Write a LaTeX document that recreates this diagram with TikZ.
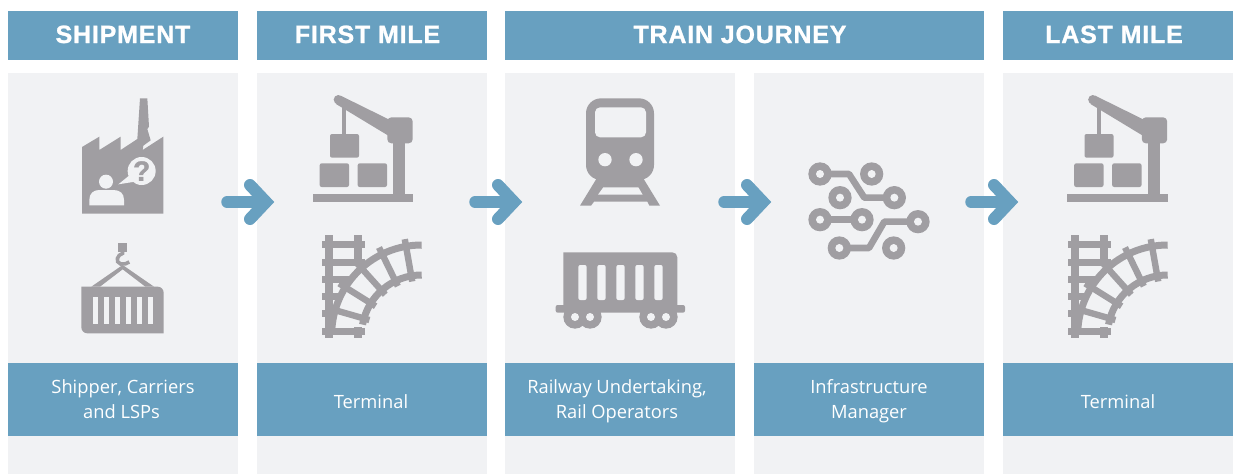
\documentclass[tikz,border=0pt]{standalone}
\usepackage{fontspec}
\setmainfont{Open Sans}
\newfontfamily\headfont{Liberation Sans Bold}[LetterSpace=3.2,FakeBold=1]
\newfontfamily\qfont{Liberation Sans Bold}[FakeBold=1.2]
\definecolor{pblue}{HTML}{68A0C0}
\definecolor{pgrey}{HTML}{F1F2F4}
\definecolor{ico}{HTML}{A09EA2}
\newcommand{\hs}{\rule[-6.5pt]{0pt}{28pt}}
\newcommand{\ftwo}{\rule[-6pt]{0pt}{25pt}}
\newcommand{\fone}{\rule[-1pt]{0pt}{20pt}}
\tikzset{
 panel/.style={fill=pgrey,draw=none,minimum width=230pt,minimum height=401pt,inner sep=0pt,outer sep=0pt},
 headbox/.style={fill=pblue,draw=none,text=white,minimum height=49pt,inner sep=0pt,outer sep=0pt,font=\fontsize{25}{30}\selectfont\headfont},
 footbox/.style={fill=pblue,draw=none,text=white,minimum width=230pt,minimum height=73pt,inner sep=0pt,outer sep=0pt,align=center,font=\fontsize{18.3}{25}\selectfont},
 shaft/.style={draw=pblue,line width=11.5pt,line cap=round},
 chev/.style={draw=pblue,line width=12pt,line cap=round,line join=miter},
 zone/.style={x=0.33333pt,y=-0.33333pt},
 ztwo/.style={x=0.33333pt,y=0.33333pt},
}
\newcommand{\factoryicon}[2]{\begin{scope}[shift={(#1,#2)},zone]
 \fill[ico] (66,386)--(66,186)--(118,155)--(118,195)--(182,155)--(182,195)--(232,162)--(240,40)--(262,40)--(267,125)--(262,132)--(272,166)--(250,182)--(248,195)--(310,155)--(310,386)--cycle;
 \fill[pgrey] (138,290) circle[radius=21];
 \fill[pgrey] (88,361)--(88,345) .. controls (88,325) and (100,315) .. (118,315)--(160,315) .. controls (180,315) and (192,325) .. (192,345)--(192,361)--cycle;
 \fill[pgrey] (245,258) circle[radius=42];
 \fill[pgrey] (175,298)--(212,268)--(225,290)--cycle;
 \end{scope}}
\newcommand{\containericon}[2]{\begin{scope}[shift={(#1,#2)},zone]
 \fill[ico] (175,40) rectangle (200,65);
 \draw[ico,line width=3.6pt] (188,62)--(188,70) .. controls (172,74) and (164,96) .. (182,102) .. controls (192,104) and (202,100) .. (208,96);
 \fill[ico] (188,105)--(282,170)--(256,170)--(188,118)--(120,170)--(94,170)--cycle;
 \fill[ico] (64,170)--(293,170) arc[start angle=-90,end angle=0,radius=18]--(311,310)--(82,310) arc[start angle=90,end angle=180,radius=18]--cycle;
 \foreach \s in {98,131,164,197,230,263} \fill[pgrey] (\s,200) rectangle (\s+15,282);
 \end{scope}}
\newcommand{\craneicon}[2]{\begin{scope}[shift={(#1,#2)},zone]
 \fill[ico] (38,327) rectangle (340,352);
 \fill[ico] (280,170) rectangle (316,330);
 \fill[ico,rounded corners=4pt] (262,97) rectangle (338,175);
 \fill[ico] (122,32)--(270,105)--(270,155)--(108,57)--cycle;
 \fill[ico] (115,44) circle[radius=14];
 \fill[ico] (127,55) rectangle (139,150);
 \fill[ico,rounded corners=2pt] (90,147) rectangle (177,218);
 \fill[ico,rounded corners=2pt] (59,235) rectangle (147,306);
 \fill[ico,rounded corners=2pt] (173,235) rectangle (261,306);
 \end{scope}}
\newcommand{\trackicon}[2]{\begin{scope}[shift={(#1,#2)},zone]
 \fill[ico] (46,30) rectangle (68,338);
 \fill[ico] (133,30) rectangle (155,110);
 \fill[ico] (133,305) rectangle (155,338);
 \fill[ico] (35,48) rectangle (165,69);
 \fill[ico] (35,102) rectangle (165,123);
 \fill[ico] (35,153) rectangle (120,174);
 \fill[ico] (35,205) rectangle (85,226);
 \fill[ico] (35,255) rectangle (75,276);
 \fill[ico] (35,309) rectangle (165,331);
 \end{scope}
 \begin{scope}[shift={(#1+111.667,#2+110)},ztwo]
 \draw[ico,line width=7pt] (90:270) arc[start angle=90,end angle=178,radius=90pt];
 \draw[ico,line width=7pt] (90:180) arc[start angle=90,end angle=170,radius=60pt];
 \foreach \a in {100,116,132,148,164} \draw[ico,line width=6.4pt] (\a:163)--(\a:292);
 \end{scope}}
\newcommand{\trainicon}[2]{\begin{scope}[shift={(#1,#2)},zone]
 \fill[ico] (82,262)--(30,347)--(63,347)--(72,335)--(232,335)--(238,347)--(270,347)--(218,262)--cycle;
 \fill[pgrey] (100,292)--(205,292)--(218,314)--(84,314)--cycle;
 \fill[ico,rounded corners=15pt] (48,25) rectangle (252,270);
 \fill[pgrey,rounded corners=5pt] (75,52) rectangle (228,142);
 \fill[pgrey] (105,209) circle[radius=20];
 \fill[pgrey] (198,209) circle[radius=20];
 \end{scope}}
\newcommand{\wagonicon}[2]{\begin{scope}[shift={(#1,#2)},zone]
 \fill[ico] (55,37)--(382,37) arc[start angle=-90,end angle=0,radius=15]--(397,200)--(55,200)--cycle;
 \fill[ico,rounded corners=2pt] (32,195) rectangle (420,218);
 \foreach \s in {100,157,214,271,328} \fill[pgrey,rounded corners=2pt] (\s,75) rectangle (\s+25,180);
 \foreach \c in {90,135,318,363} \fill[ico] (\c,231) circle[radius=35];
 \foreach \c in {90,135,318,363} \fill[pgrey] (\c,231) circle[radius=12];
 \end{scope}}
\newcommand{\circuiticon}[2]{\begin{scope}[shift={(#1,#2)},zone]
 \draw[ico,line width=6.6pt,line join=round] (75,72)--(162,72)--(208,143)--(298,143);
 \draw[ico,line width=6.6pt] (75,209)--(201,209);
 \draw[ico,line width=6.6pt,line join=round] (369,215)--(268,215)--(222,294)--(133,294);
 \foreach \c/\d in {75/72,230/72,298/143,135/143,75/209,201/209,369/215,133/294,296/294}{
  \fill[ico] (\c,\d) circle[radius=35];
  \fill[pgrey] (\c,\d) circle[radius=12];}
 \end{scope}}
\newcommand{\flowarrow}[3]{%
 \coordinate (#1s) at (#2,#3);
 \coordinate (#1e) at (#2+39,#3);
 \coordinate (#1u) at (#2+23,#3-17);
 \coordinate (#1d) at (#2+23,#3+17);
 \draw[shaft] (#1s)--(#1e);
 \draw[chev] (#1u)--(#1e)--(#1d);}
\begin{document}
\begin{tikzpicture}[x=1pt,y=-1pt]
\useasboundingbox (0,0) rectangle (1235,474);
\fill[white] (0,0) rectangle (1235,474);
\node[panel] (pa) at (123,273.5) {};
\node[panel] (pb) at (372,273.5) {};
\node[panel] (pc) at (620,273.5) {};
\node[panel] (pd) at (869,273.5) {};
\node[panel] (pe) at (1118,273.5) {};
\node[headbox,minimum width=230pt] (ha) at (123,35.5) {\hs SHIPMENT};
\node[headbox,minimum width=230pt] (hb) at (372,35.5) {\hspace*{-9pt}\hs FIRST MILE};
\node[headbox,minimum width=479pt] (hc) at (744.5,35.5) {\hspace*{-9pt}\hs TRAIN JOURNEY};
\node[headbox,minimum width=230pt] (he) at (1118,35.5) {\hspace*{-8pt}\hs LAST MILE};
\node[footbox] (fa) at (123,399.5) {\ftwo Shipper, Carriers\\\ftwo\hspace*{-3pt}and LSPs};
\node[footbox] (fb) at (372,399.5) {\fone\hspace*{-2pt}Terminal};
\node[footbox] (fc) at (620,399.5) {\ftwo\hspace*{-6pt}Railway Undertaking,\\\ftwo\hspace*{-6pt}Rail Operators};
\node[footbox] (fd) at (869,399.5) {\ftwo Infrastructure\\\ftwo Manager};
\node[footbox] (fe) at (1118,399.5) {\fone Terminal};
\factoryicon{60}{85}
\node[text=ico,font=\fontsize{28}{28}\selectfont\qfont,inner sep=0pt] (qm) at (141.7,171) {?};
\containericon{60}{230}
\craneicon{300}{85}
\trackicon{310}{225}
\trainicon{570}{90}
\wagonicon{545}{240}
\circuiticon{795}{150}
\craneicon{1054.5}{85}
\trackicon{1056}{225}
\flowarrow{aa}{227}{202}
\flowarrow{ab}{475}{202}
\flowarrow{ac}{724}{202}
\flowarrow{ad}{971}{202}
\end{tikzpicture}
\end{document}
